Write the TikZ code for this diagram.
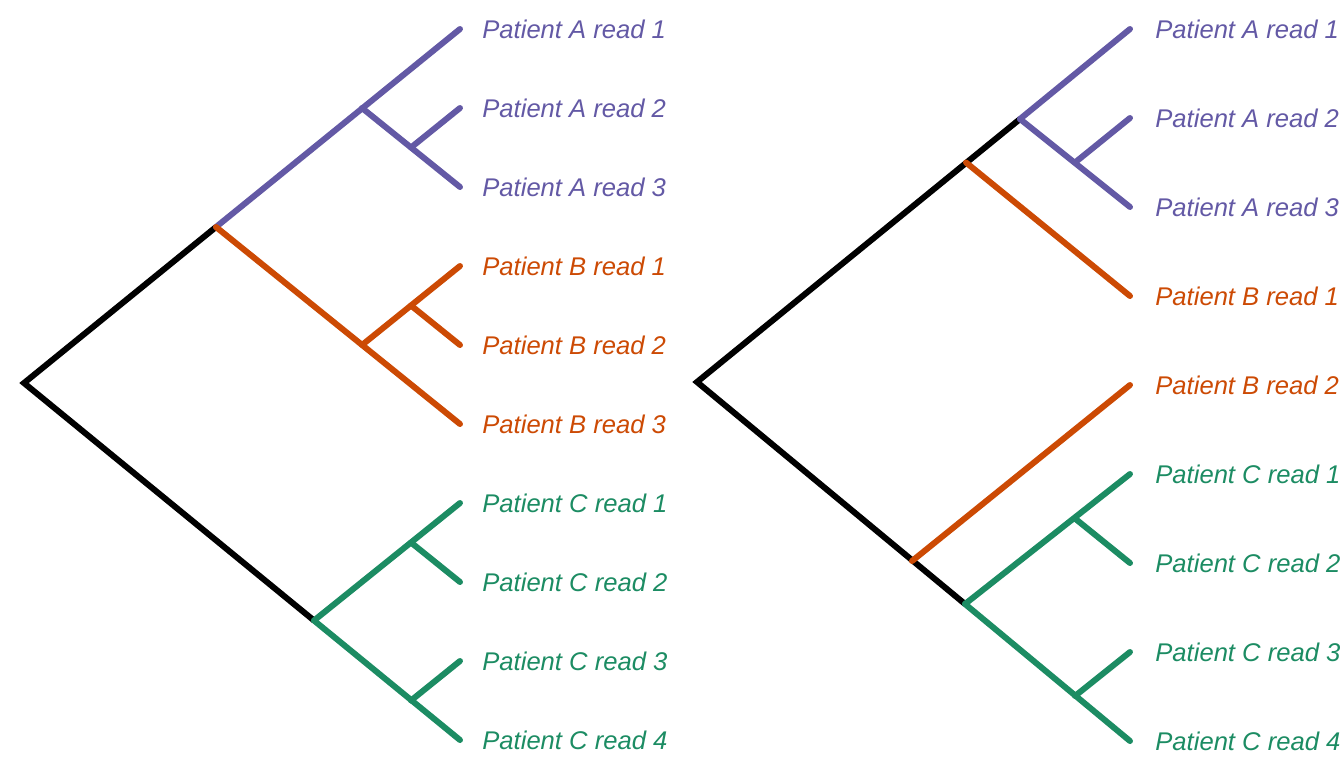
\documentclass[tikz,border=0pt]{standalone}
\usepackage{fontspec}
\setmainfont{Liberation Sans}
\definecolor{readA}{RGB}{99,89,165}
\definecolor{readB}{RGB}{204,74,4}
\definecolor{readC}{RGB}{28,140,99}

\begin{document}
\begin{tikzpicture}[x=0.5pt, y=-0.5pt,
		stem/.style={line width=3pt, line join=miter},
		branch/.style={line width=3pt, line cap=round},
		leaf/.style={anchor=west, inner sep=0pt, font=\fontsize{12.8}{15}\selectfont\itshape},
	]
	\useasboundingbox (0,0) rectangle (1344,768);

	% left tree
	\coordinate (root) at (24,383);
	\coordinate (ab) at (216,227);
	\coordinate (a) at (362,108);
	\coordinate (a23) at (411,147.5);
	\coordinate (b) at (362,345);
	\coordinate (b12) at (411,305.5);
	\coordinate (c) at (314,620.5);
	\coordinate (c12) at (411,542.5);
	\coordinate (c34) at (411,700.5);

	\coordinate (a1) at (460,29);
	\coordinate (a2) at (460,108);
	\coordinate (a3) at (460,187);
	\coordinate (b1) at (460,266);
	\coordinate (b2) at (460,345);
	\coordinate (b3) at (460,424);
	\coordinate (c1) at (460,503);
	\coordinate (c2) at (460,582);
	\coordinate (c3) at (460,661);
	\coordinate (c4) at (460,740);

	\node[leaf, text=readA] (la1) at (482,29)  {Patient A read 1};
	\node[leaf, text=readA] (la2) at (482,108) {Patient A read 2};
	\node[leaf, text=readA] (la3) at (482,187) {Patient A read 3};
	\node[leaf, text=readB] (lb1) at (482,266) {Patient B read 1};
	\node[leaf, text=readB] (lb2) at (482,345) {Patient B read 2};
	\node[leaf, text=readB] (lb3) at (482,424) {Patient B read 3};
	\node[leaf, text=readC] (lc1) at (482,503) {Patient C read 1};
	\node[leaf, text=readC] (lc2) at (482,582) {Patient C read 2};
	\node[leaf, text=readC] (lc3) at (482,661) {Patient C read 3};
	\node[leaf, text=readC] (lc4) at (482,740) {Patient C read 4};

	\draw[stem] (ab) -- (root) -- (c);
	\draw[branch, readA] (ab) -- (a1);
	\draw[branch, readA] (a) -- (a3);
	\draw[branch, readA] (a23) -- (a2);
	\draw[branch, readB] (ab) -- (b3);
	\draw[branch, readB] (b) -- (b1);
	\draw[branch, readB] (b12) -- (b2);
	\draw[branch, readC] (c) -- (c4);
	\draw[branch, readC] (c) -- (c1);
	\draw[branch, readC] (c12) -- (c2);
	\draw[branch, readC] (c34) -- (c3);

	% right tree
	\coordinate (rroot) at (697,382);
	\coordinate (rab) at (966,162.5);
	\coordinate (ra) at (1020,119);
	\coordinate (ra23) at (1075,162.5);
	\coordinate (rbc) at (912,561);
	\coordinate (rc) at (965,604);
	\coordinate (rc12) at (1075,518.5);
	\coordinate (rc34) at (1075,696);

	\coordinate (ra1) at (1130,29);
	\coordinate (ra2) at (1130,118);
	\coordinate (ra3) at (1130,207);
	\coordinate (rb1) at (1130,296);
	\coordinate (rb2) at (1130,385);
	\coordinate (rc1) at (1130,474);
	\coordinate (rc2) at (1130,563);
	\coordinate (rc3) at (1130,652);
	\coordinate (rc4) at (1130,741);

	\node[leaf, text=readA] (rla1) at (1155,29)  {Patient A read 1};
	\node[leaf, text=readA] (rla2) at (1155,118) {Patient A read 2};
	\node[leaf, text=readA] (rla3) at (1155,207) {Patient A read 3};
	\node[leaf, text=readB] (rlb1) at (1155,296) {Patient B read 1};
	\node[leaf, text=readB] (rlb2) at (1155,385) {Patient B read 2};
	\node[leaf, text=readC] (rlc1) at (1155,474) {Patient C read 1};
	\node[leaf, text=readC] (rlc2) at (1155,563) {Patient C read 2};
	\node[leaf, text=readC] (rlc3) at (1155,652) {Patient C read 3};
	\node[leaf, text=readC] (rlc4) at (1155,741) {Patient C read 4};

	\draw[stem] (ra) -- (rroot) -- (rc);
	\draw[branch, readA] (ra) -- (ra1);
	\draw[branch, readA] (ra) -- (ra3);
	\draw[branch, readA] (ra23) -- (ra2);
	\draw[branch, readB] (rab) -- (rb1);
	\draw[branch, readB] (rbc) -- (rb2);
	\draw[branch, readC] (rc) -- (rc4);
	\draw[branch, readC] (rc) -- (rc1);
	\draw[branch, readC] (rc12) -- (rc2);
	\draw[branch, readC] (rc34) -- (rc3);
\end{tikzpicture}
\end{document}
